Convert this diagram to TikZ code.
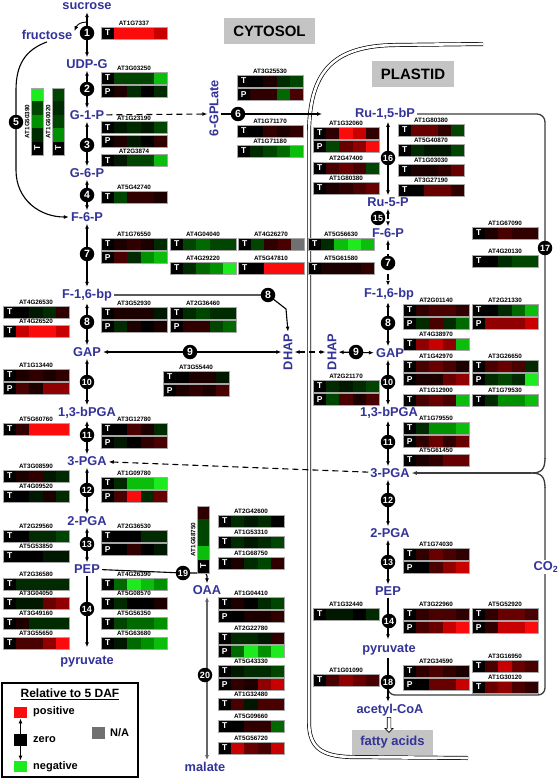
\documentclass[tikz,border=0pt]{standalone}
\usepackage{fontspec}
\setmainfont{Liberation Sans}
\usetikzlibrary{arrows.meta,shapes.arrows,calc}
\definecolor{metblue}{RGB}{51,51,153}
\definecolor{boxgray}{RGB}{196,196,196}
\definecolor{hk}{RGB}{0,0,0}
\definecolor{hr0}{RGB}{28,0,0}
\definecolor{hr1}{RGB}{48,0,0}
\definecolor{hr2}{RGB}{72,0,0}
\definecolor{hr3}{RGB}{105,0,0}
\definecolor{hr4}{RGB}{145,0,0}
\definecolor{hr5}{RGB}{200,0,0}
\definecolor{hr6}{RGB}{250,12,12}
\definecolor{hg0}{RGB}{0,24,0}
\definecolor{hg1}{RGB}{0,42,0}
\definecolor{hg2}{RGB}{0,70,0}
\definecolor{hg3}{RGB}{0,105,0}
\definecolor{hg4}{RGB}{0,145,0}
\definecolor{hg5}{RGB}{12,190,12}
\definecolor{hg6}{RGB}{30,235,30}
\definecolor{hna}{RGB}{112,112,112}
\definecolor{loopc}{RGB}{60,60,60}
\newcommand\FS[1]{\fontsize{#1}{#1}\selectfont}
\newcount\hmcnt
\tikzset{
 met/.style={text=metblue, font=\bfseries\FS{12.8}, inner sep=2pt},
 glab/.style={font=\bfseries\FS{6.3}, inner sep=0pt},
 hlet/.style={text=white, font=\bfseries\FS{8.5}, inner sep=0pt},
 hframe/.style={draw=black!35, line width=0.5pt},
 num/.style={circle, fill=black, text=white, inner sep=0pt, minimum size=14.5pt, font=\bfseries\FS{10.5}},
 numw/.style={num, font=\bfseries\FS{9}},
 ltip/.tip={Latex[length=5pt,width=4pt]},
 dar/.style={line width=1.1pt, ltip-ltip},
 sar/.style={line width=1.1pt, -ltip},
 dsh/.style={dash pattern=on 6pt off 4pt},
 loopline/.style={line width=1.3pt, draw=loopc},
 membrane/.style={draw=black, line width=0.7pt, double=white, double distance=2.6pt},
 gbox/.style={fill=boxgray, inner sep=0pt},
 lsq/.style={minimum width=13pt, minimum height=11.5pt, inner sep=0pt},
 ltx/.style={font=\bfseries\FS{11}, anchor=west, inner sep=0pt},
}
% heatmap row: x, ytop, letter, c1..c4
\newcommand\hrow[7]{%
 \global\advance\hmcnt by 1
 \fill[black] (#1,#2) rectangle ++(13.2,12);
 \fill[h#4] (#1+13.2,#2) rectangle ++(13.2,12);
 \fill[h#5] (#1+26.4,#2) rectangle ++(13.2,12);
 \fill[h#6] (#1+39.6,#2) rectangle ++(13.2,12);
 \fill[h#7] (#1+52.8,#2) rectangle ++(13.2,12);
 \draw[hframe] (#1,#2) rectangle ++(66,12);
 \node[hlet, name=hl\the\hmcnt] at (#1+6.6,#2+6) {#3};
}
\newcommand\gT[7]{%
 \node[glab, name=gn\the\hmcnt] at (#1+33,#2-3.6) {#3};
 \hrow{#1}{#2}{T}{#4}{#5}{#6}{#7}}
\newcommand\gP[6]{\hrow{#1}{#2+13.5}{P}{#3}{#4}{#5}{#6}}
% vertical heatmap: x, ytop, name, ctop..c(next to T)
\newcommand\vbar[7]{%
 \global\advance\hmcnt by 1
 \fill[h#4] (#1,#2) rectangle ++(12.5,13.4);
 \fill[h#5] (#1,#2+13.4) rectangle ++(12.5,13.4);
 \fill[h#6] (#1,#2+26.8) rectangle ++(12.5,13.4);
 \fill[h#7] (#1,#2+40.2) rectangle ++(12.5,13.4);
 \fill[black] (#1,#2+53.6) rectangle ++(12.5,13.4);
 \draw[hframe] (#1,#2) rectangle ++(12.5,67);
 \node[hlet, rotate=90, name=vl\the\hmcnt] at (#1+6.25,#2+60.3) {T};
 \node[glab, rotate=90, name=vn\the\hmcnt] at (#1-3.8,#2+33.5) {#3};
}
\begin{document}
\begin{tikzpicture}[x=1pt,y=-1pt]
\useasboundingbox (0,0) rectangle (558,779);
\fill[white] (0,0) rectangle (558,779);

% compartment labels
\node[gbox, minimum width=91pt, minimum height=26pt, font=\bfseries\FS{15}] (cytosol) at (269.5,31) {CYTOSOL};
\node[gbox, minimum width=82pt, minimum height=26pt, font=\bfseries\FS{15}] (plastid) at (413,74) {PLASTID};

% plastid envelope
\draw[membrane] (483,44) -- (395,45) .. controls (332,46) and (309,72) .. (309,135) -- (309,722) .. controls (309,748) and (322,756) .. (350,757) -- (468,758);

% cytosolic metabolites
\node[met] (sucrose) at (87,6.5) {sucrose};
\node[met] (fructose) at (47,35) {fructose};
\node[met] (udpg) at (87,64) {UDP-G};
\node[met] (gonep) at (87,115) {G-1-P};
\node[met] (gsixp) at (87,173) {G-6-P};
\node[met] (fsixp) at (87,217) {F-6-P};
\node[met] (fbpc) at (87,295) {F-1,6-bp};
\node[met] (gapc) at (87,352) {GAP};
\node[met] (bpgac) at (87,413) {1,3-bPGA};
\node[met] (pgac) at (87,461) {3-PGA};
\node[met] (pgtwoc) at (87,521) {2-PGA};
\node[met] (pepc) at (87,569) {PEP};
\node[met] (pyrc) at (87,662) {pyruvate};
\node[met] (oaa) at (207,590) {OAA};
\node[met] (malate) at (205,767) {malate};
\node[met, rotate=90] (gplate) at (214,108) {6-GPLate};
\node[met, rotate=90] (dhapc) at (288,352) {DHAP};

% plastid metabolites
\node[met] (rubp) at (385,114) {Ru-1,5-bP};
\node[met] (rufivep) at (388,202) {Ru-5-P};
\node[met] (fsixpp) at (388,233) {F-6-P};
\node[met] (fbpp) at (389,294) {F-1,6-bp};
\node[met] (gapp) at (390,353) {GAP};
\node[met] (bpgap) at (389,413) {1,3-bPGA};
\node[met] (pgap) at (390,473) {3-PGA};
\node[met] (pgtwop) at (390,533) {2-PGA};
\node[met] (pepp) at (388,591) {PEP};
\node[met] (pyrp) at (389,650) {pyruvate};
\node[met] (acoa) at (390,710) {acetyl-CoA};
\node[met, rotate=90] (dhapp) at (332,352) {DHAP};
\node[gbox, minimum width=81pt, minimum height=25pt, text=metblue, font=\bfseries\FS{13}] (fatty) at (392.5,742.5) {fatty acids};
\node[single arrow, draw=black, fill=white, line width=0.6pt, shape border rotate=270, minimum height=15pt, inner sep=1.5pt, single arrow head extend=2.3pt] (faarrow) at (389,724) {};

% axes and helper coordinates
\coordinate (pax) at (388,0);
\coordinate (sf) at (87,22);
\coordinate (q6) at (238,114);
\coordinate (q6e) at (322,114);
\coordinate (q8b) at (268,295);
\coordinate (q19) at (183,573);
\coordinate (lb) at (388,684);

% big Calvin-cycle / CO2 loops
\draw[loopline, rounded corners=8pt] (rubp) -- (545,114) -- (545,459);
\draw[loopline] (545,458) .. controls (545,470) and (541,473) .. (531,473);
\draw[loopline, rounded corners=7pt] (lb) -- (388,695) -- (545,695) -- (545,487);
\draw[loopline] (545,488) .. controls (545,476) and (541,473) .. (531,473);
\draw[sar, loopline] (531,473) -- (pgap);
\node[met, fill=white, inner sep=1pt] (co2) at (546,567) {CO\textsubscript{2}};

% cytosolic reactions
\draw[dar] (sucrose) -- (udpg);
\draw[sar, line width=0.9pt] (sf) .. controls (80,22) and (77,25) .. ($(fructose.north east)+(0,3)$);
\draw[dar] (udpg) -- (gonep);
\draw[dar] (gonep) -- (gsixp);
\draw[dar] (gsixp) -- (fsixp);
\draw[dar] (fsixp) -- (fbpc);
\draw[dar] (fbpc) -- (gapc);
\draw[dar] (gapc) -- (bpgac);
\draw[dar] (bpgac) -- (pgac);
\draw[dar] (pgac) -- (pgtwoc);
\draw[dar] (pgtwoc) -- (pepc);
\draw[sar, shorten >=7pt] (pepc) -- (pyrc);
\draw[sar] (fructose.south) .. controls (25,50) and (16,65) .. (16,90) -- (16,170) .. controls (16,200) and (40,217) .. (fsixp.west);
\draw[sar, dsh] (gonep) -- (gplate.north |- q6);
\draw[sar] (gplate.south |- q6) -- (q6e);
\draw[sar] (fbpc) -- (q8b) -- (286,309) -- (dhapc.east);
\draw[dar] (gapc) -- (dhapc);
\draw[dar, dsh] (dhapc) -- (dhapp);
\draw[dar] (dhapp) -- (gapp);
\draw[sar, dsh] (pgap) -- (pgac);
\draw[line width=1.1pt] (pepc) -- (q19);
\draw[sar, rounded corners=3pt] (q19) -| (oaa.north);
\draw[dar, draw=black!60, fill=black!60] (oaa.south) -- (oaa.south |- malate.north);

% plastid reactions
\draw[dar] (pax |- rubp.south) -- (pax |- rufivep.north);
\draw[dar, dsh] (pax |- rufivep.south) -- (pax |- fsixpp.north);
\draw[dar, dsh] (pax |- fsixpp.south) -- (pax |- fbpp.north);
\draw[dar] (pax |- fbpp.south) -- (pax |- gapp.north);
\draw[dar] (pax |- gapp.south) -- (pax |- bpgap.north);
\draw[dar] (pax |- bpgap.south) -- (pax |- pgap.north);
\draw[dar] (pax |- pgap.south) -- (pax |- pgtwop.north);
\draw[dar] (pax |- pgtwop.south) -- (pax |- pepp.north);
\draw[sar, shorten >=3pt] (pax |- pepp.south) -- (pax |- pyrp.north);
\draw[sar] (pax |- pyrp.south) -- (pax |- acoa.north);

% ---------- heatmaps ----------
% cytosol column A
\gT{3}{306}{AT4G26530}{k}{g0}{g1}{r1}
\gT{3}{325}{AT4G26520}{r5}{r6}{r6}{r5}
\gT{3}{369}{AT1G13440}{r0}{r1}{r0}{r1} \gP{3}{369}{r2}{r0}{r4}{r4}
\gT{3}{423}{AT5G60760}{r1}{r6}{r6}{r6}
\gT{3}{470}{AT3G08590}{r0}{r1}{g0}{g1}
\gT{3}{490}{AT4G09520}{k}{g0}{r0}{g1}
\gT{3}{530}{AT2G29560}{k}{g1}{g1}{g2}
\gT{3}{550}{AT5G53850}{k}{k}{g0}{g0}
\gT{3}{578}{AT2G36580}{g1}{g1}{g1}{g1}
\gT{3}{597}{AT3G04050}{g0}{g0}{r3}{r4}
\gT{3}{617}{AT3G49160}{r0}{g1}{g1}{g1}
\gT{3}{637}{AT3G55650}{r2}{r2}{r4}{r6}
% cytosol column B
\gT{101}{27}{AT1G7337}{r6}{r6}{r6}{r5}
\gT{101}{72}{AT3G03250}{g2}{g2}{g2}{g5} \gP{101}{72}{r0}{g1}{k}{g1}
\gT{101}{121.5}{AT1G23190}{g0}{g1}{g0}{g2} \gP{101}{121.5}{r0}{g0}{k}{r1}
\gT{101}{154.5}{AT2G3874}{g0}{g2}{g2}{g5}
\gT{101}{191}{AT5G42740}{g2}{r1}{r1}{r0}
\gT{101}{238}{AT1G76550}{r0}{r1}{r0}{g1} \gP{101}{238}{r2}{g1}{g4}{g5}
\gT{101}{307}{AT3G52930}{r0}{r0}{r0}{g0} \gP{101}{307}{g1}{r0}{k}{r0}
\gT{101}{423}{AT3G12780}{k}{r2}{r0}{g1} \gP{101}{423}{g0}{k}{r1}{r2}
\gT{101}{477}{AT1G09780}{g1}{g5}{g5}{g6} \gP{101}{477}{r2}{r6}{g1}{r3}
\gT{101}{530}{AT2G36530}{k}{k}{g1}{g1} \gP{101}{530}{k}{r1}{k}{g0}
\gT{101}{578}{AT4G26390}{g3}{g6}{g5}{g4}
\gT{101}{597}{AT5G08570}{g1}{k}{k}{r0}
\gT{101}{617}{AT5G56350}{g2}{g3}{g3}{g4}
\gT{101}{637}{AT5G63680}{g0}{g3}{g4}{g5}
% cytosol column C
\gT{170}{238}{AT4G04040}{g2}{g3}{g2}{g2}
\gT{170}{262}{AT4G29220}{g1}{g3}{g4}{g6}
\gT{170}{307}{AT2G36460}{g1}{g2}{g1}{g1} \gP{170}{307}{r1}{r1}{g2}{g3}
\gT{163}{371}{AT3G55440}{k}{r0}{r0}{g0} \gP{163}{371}{r0}{r1}{r0}{r2}
% cytosol column D
\gT{237}{75}{AT3G25530}{k}{r0}{g1}{g2} \gP{237}{75}{r1}{r1}{g3}{r2}
\gT{237}{125}{AT1G71170}{k}{r1}{r0}{r1}
\gT{237}{145}{AT1G71180}{g1}{g2}{g3}{g5}
\gT{238}{238}{AT4G26270}{g2}{r1}{r2}{na}
\gT{238}{262}{AT5G47810}{k}{r6}{r6}{r6}
% cytosol column E
\gT{218}{515}{AT2G42600}{g1}{g0}{g1}{k}
\gT{218}{536}{AT1G53310}{g1}{g0}{g1}{g2}
\gT{218}{557}{AT1G68750}{r0}{g1}{g2}{r1}
\gT{218}{597}{AT1G04410}{r0}{k}{g1}{g2} \gP{218}{597}{k}{r0}{r0}{r1}
\gT{218}{632}{AT2G22780}{g1}{g1}{g0}{r1} \gP{218}{632}{g3}{g6}{g4}{g6}
\gT{218}{665}{AT5G43330}{g0}{g1}{g1}{g2} \gP{218}{665}{r1}{r0}{r4}{r5}
\gT{218}{698}{AT1G32480}{r2}{g0}{r2}{r2}
\gT{218}{720}{AT5G09660}{k}{r1}{r1}{g3}
\gT{218}{742}{AT5G56720}{r5}{r3}{r2}{r5}
% near envelope
\gT{308}{238}{AT5G56630}{g1}{g5}{g6}{g5}
\gT{308}{262}{AT5G61580}{r0}{r0}{r0}{r1}
% plastid column G
\gT{313}{127}{AT1G32060}{r1}{r6}{r5}{r1} \gP{313}{127}{g2}{r3}{r4}{r6}
\gT{313}{162}{AT2G47400}{r2}{r3}{r2}{g2}
\gT{313}{182}{AT1G80380}{r0}{r1}{r2}{r3}
\gT{313}{380}{AT2G21170}{g1}{g0}{g1}{g2} \gP{313}{380}{g2}{r2}{r0}{r2}
\gT{313}{608}{AT1G32440}{g0}{g0}{k}{g1}
\gT{313}{674}{AT1G01090}{r2}{r4}{r3}{r2}
% plastid column H
\gT{398}{124}{AT1G80380}{r3}{r3}{r1}{g2}
\gT{398}{144}{AT5G40870}{g1}{g0}{g0}{g2}
\gT{398}{164}{AT1G03030}{r0}{r0}{r1}{r3}
\gT{398}{184}{AT3G27190}{k}{r3}{r3}{r1}
% plastid column I
\gT{403}{304}{AT2G01140}{r1}{r2}{r2}{r1} \gP{403}{304}{g1}{r2}{g1}{g3}
\gT{403}{338}{AT4G38970}{r4}{r5}{r4}{g5}
\gT{403}{360}{AT1G42970}{r2}{r3}{r2}{r0} \gP{403}{360}{r0}{r0}{r3}{r4}
\gT{403}{394}{AT1G12900}{r2}{r3}{r2}{g5}
\gT{403}{422}{AT1G79550}{g1}{g4}{g4}{g5} \gP{403}{422}{r1}{r3}{r1}{r3}
\gT{403}{454}{AT5G61450}{r0}{r1}{r3}{r3}
\gT{403}{548}{AT1G74030}{r1}{r3}{r2}{r1} \gP{403}{548}{k}{r2}{r4}{r5}
\gT{403}{608}{AT3G22960}{r1}{r2}{r2}{r1} \gP{403}{608}{r2}{r3}{r5}{r6}
\gT{403}{665}{AT2G34590}{r1}{r2}{r1}{r0} \gP{403}{665}{k}{r3}{r3}{r5}
% plastid column J
\gT{472}{227}{AT1G67090}{r0}{r2}{r1}{r1}
\gT{472}{255}{AT4G20130}{k}{g1}{g2}{g2}
\gT{472}{304}{AT2G21330}{k}{g1}{g3}{g5} \gP{472}{304}{r4}{r4}{r4}{r5}
\gT{472}{360}{AT3G26650}{r2}{r3}{r2}{g1} \gP{472}{360}{g1}{g2}{g1}{g6}
\gT{472}{394}{AT1G79530}{g1}{g4}{g4}{g5}
\gT{472}{608}{AT5G52920}{r1}{r3}{r3}{r2} \gP{472}{608}{r1}{r5}{r5}{r6}
\gT{472}{660}{AT3G16950}{r2}{r5}{r3}{r2}
\gT{472}{681}{AT1G30120}{r3}{r4}{r2}{r1}
% vertical heatmaps
\vbar{31}{88}{AT1G50390}{g6}{g2}{g4}{g1}
\vbar{52}{88}{AT1G60020}{g2}{g1}{g2}{g4}
\vbar{197}{506}{AT1G68750}{r1}{g2}{g2}{g5}

% ---------- reaction numbers ----------
\node[num] (n1) at (87,33) {1};
\node[num] (n2) at (87,89) {2};
\node[num] (n3) at (87,145) {3};
\node[num] (n4) at (87,195) {4};
\node[num] (n5) at (16,122) {5};
\node[num] (n6) at (q6) {6};
\node[num] (n7) at (87,254) {7};
\node[num] (n8) at (87,322) {8};
\node[num] (n8b) at (q8b) {8};
\node[num] (n9) at (190,352) {9};
\node[num] (n9p) at (356,352) {9};
\node[numw] (n10) at (87,382) {10};
\node[numw] (n11) at (87,435) {11};
\node[numw] (n12) at (87,490) {12};
\node[numw] (n13) at (87,544) {13};
\node[numw] (n14) at (87,609) {14};
\node[numw] (n16) at (388,158) {16};
\node[numw] (n15) at (378,218) {15};
\node[num] (n7p) at (388,263) {7};
\node[numw] (n17) at (545,248) {17};
\node[num] (n8p) at (388,323) {8};
\node[numw] (n10p) at (388,382) {10};
\node[numw] (n11p) at (388,442) {11};
\node[numw] (n12p) at (388,500) {12};
\node[numw] (n13p) at (388,562) {13};
\node[numw] (n14p) at (389,621) {14};
\node[numw] (n18) at (388,682) {18};
\node[numw] (n19) at (q19) {19};
\node[numw] (n20) at (205,675) {20};

% ---------- legend ----------
\draw[line width=1.8pt] (2,683) rectangle (138,777);
\node[font=\bfseries\FS{12}, inner sep=0pt] (lgt) at (70,694) {\underline{Relative to 5 DAF}};
\node[lsq, fill=hr6] (lpos) at (20.5,712.5) {};
\node[lsq, fill=black] (lzero) at (20.5,740) {};
\node[lsq, fill=hg6] (lneg) at (20.5,766.5) {};
\node[lsq, fill=hna] (lna) at (98.5,733) {};
\node[ltx] (tpos) at (33,712) {positive};
\node[ltx] (tzero) at (33,740) {zero};
\node[ltx] (tneg) at (33,767) {negative};
\node[ltx] (tna) at (110,733) {N/A};
\draw[sar, line width=0.9pt] (lzero) -- (lpos);
\draw[sar, line width=0.9pt] (lzero) -- (lneg);
\end{tikzpicture}
\end{document}
